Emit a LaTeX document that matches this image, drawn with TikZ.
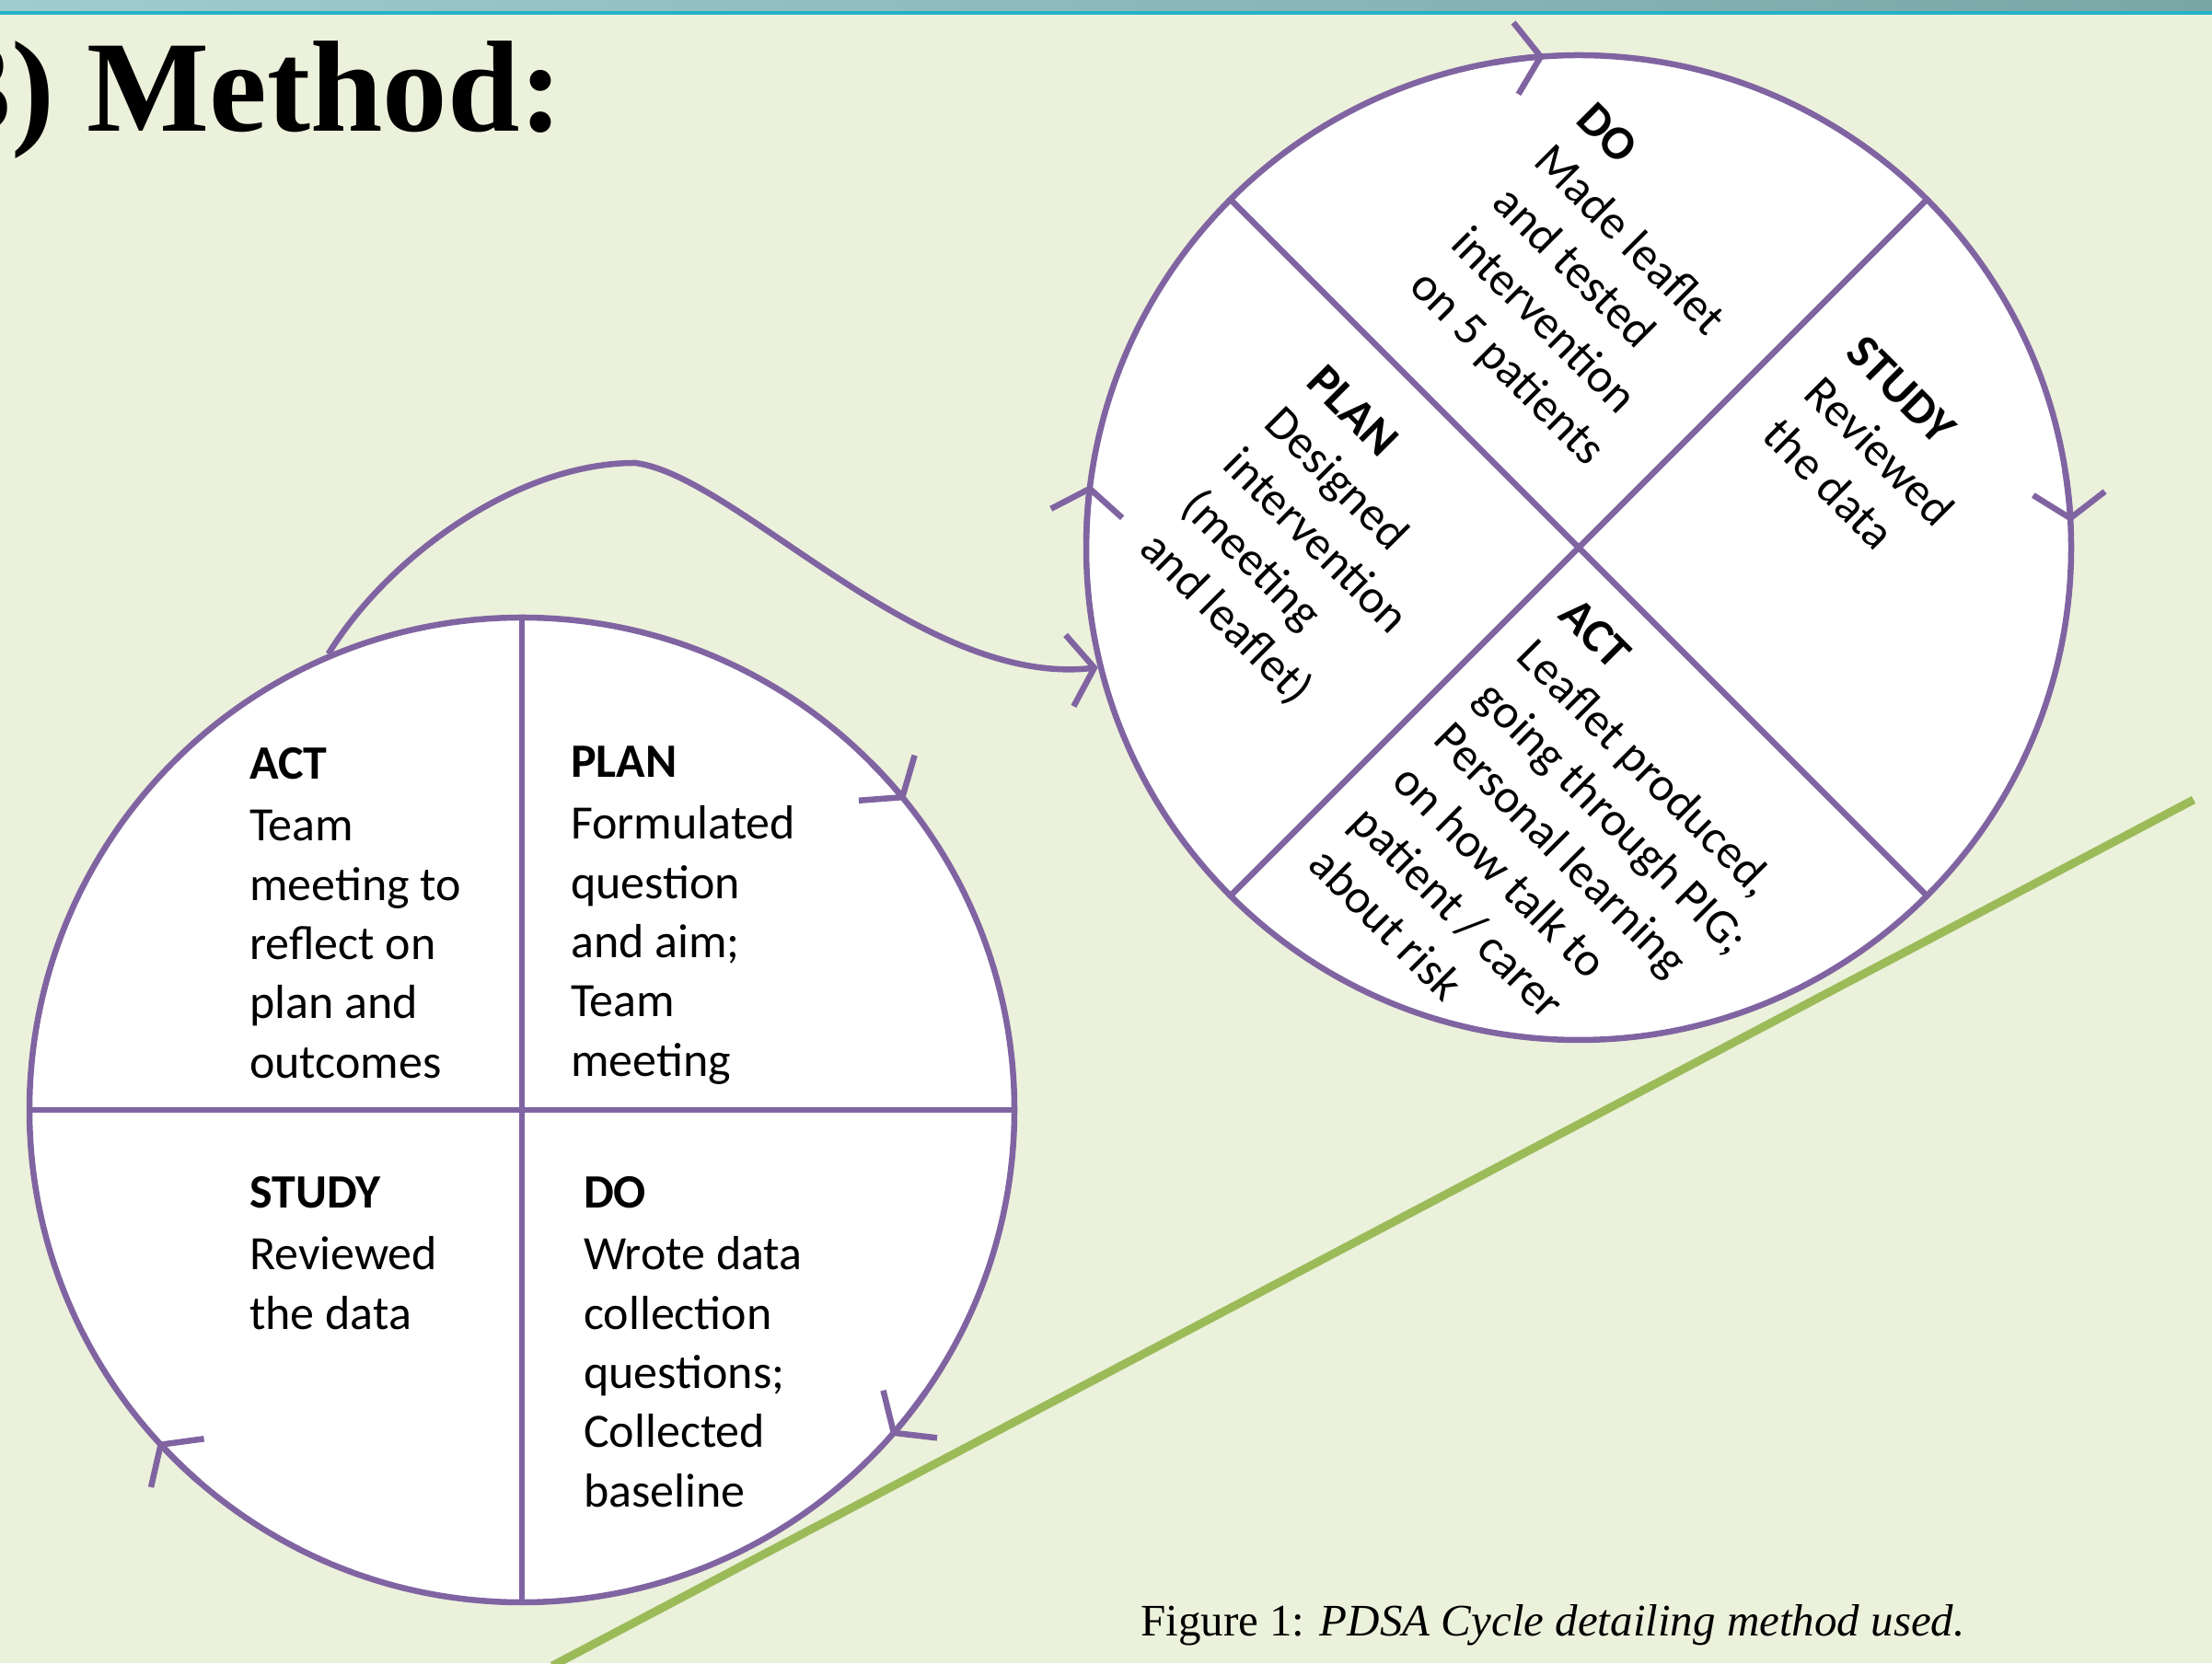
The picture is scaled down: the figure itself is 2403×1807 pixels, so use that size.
\documentclass[tikz,border=0pt]{standalone}
\usepackage{fontspec}
\setmainfont{Liberation Serif}
\newfontfamily\calibri{Carlito}
\usetikzlibrary{arrows.meta}

\definecolor{paper}{RGB}{236,241,219}
\definecolor{cyclepurple}{RGB}{128,100,162}
\definecolor{slopegreen}{RGB}{155,187,89}
\definecolor{barleft}{RGB}{160,204,208}
\definecolor{barright}{RGB}{122,166,166}
\definecolor{barline}{RGB}{35,178,200}

\tikzset{
  cyc/.style={draw=cyclepurple, line width=6.5pt},
  ring/.style={cyc, circle, fill=white, minimum size=1070pt, inner sep=0pt},
  chev/.style={-{Straight Barb[length=27pt,width=78pt]}},
  head/.style={anchor=base west, inner sep=0pt, font=\calibri\bfseries\fontsize{52}{62}\selectfont},
  body/.style={anchor=base west, inner sep=0pt, font=\calibri\fontsize{52}{62}\selectfont},
}

% one quadrant label: heading line followed by body lines, optionally rotated
\newcommand\pdsablock[6]{%
  \begin{scope}[shift={(#2,#3)}, rotate=#4, transform shape]
    \node[head] (#1-0) at (0,0) {#5};
    \foreach \txt [count=\idx] in {#6} {
      \node[body] (#1-\idx) at (0,{-\hgap-(\idx-1)*\pitch}) {\txt};
    }
  \end{scope}}

\begin{document}
\begin{tikzpicture}[x=1pt, y=1pt]
  \useasboundingbox (0,0) rectangle (2403,1807);
  \fill[paper] (0,0) rectangle (2403,1807);

  % header band
  \shade[left color=barleft, right color=barright] (0,1795) rectangle (2403,1807);
  \fill[barline] (0,1791) rectangle (2403,1795);

  % rising slope
  \coordinate (slopeA) at (600,-3);
  \coordinate (slopeB) at (2383,938);
  \draw[slopegreen, line width=9pt] (slopeA) -- (slopeB);

  % the two cycles
  \node[ring] (c1) at (567,601) {};
  \node[ring] (c2) at (1715,1212) {};

  \draw[cyc] (c1.north) -- (c1.south);
  \draw[cyc] (c1.west) -- (c1.east);
  \draw[cyc] (c2.45) -- (c2.225);
  \draw[cyc] (c2.135) -- (c2.315);

  % first cycle labels
  \def\hgap{67}\def\pitch{64.3}
  \pdsablock{actA}{271}{960}{0}{ACT}{Team, meeting to, reflect on, plan and, outcomes}
  \pdsablock{planA}{620}{962}{0}{PLAN}{Formulated, question, and aim;, Team, meeting}
  \pdsablock{studyA}{271}{494}{0}{STUDY}{Reviewed, the data}
  \pdsablock{doA}{634}{494}{0}{DO}{Wrote data, collection, questions;, Collected, baseline}

  % second cycle labels
  \def\hgap{64}\def\pitch{64}
  \pdsablock{doB}{1710}{1675}{-45}{DO}{Made leaflet, and tested, intervention, on 5 patients}
  \pdsablock{studyB}{2003}{1422}{-45}{STUDY}{Reviewed, the data}
  \pdsablock{planB}{1417}{1390}{-45}{PLAN}{Designed, intervention, {(meeting}, {and leaflet)}}
  \pdsablock{actB}{1691}{1137}{-45}{ACT}{{Leaflet produced,}, going through PIG;, Personal learning, on how talk to, patient / carer, about risk}

  % direction marks on the first cycle
  \draw[cyc, chev] (c1) ++(45:535) arc[start angle=45, end angle=39, radius=535];
  \draw[cyc, chev] (c1) ++(-35:535) arc[start angle=-35, end angle=-41.4, radius=535];
  \draw[cyc, chev] (c1) ++(229:535) arc[start angle=229, end angle=222.4, radius=535];

  % direction marks on the second cycle
  \draw[cyc, chev] (c2) ++(100:535) arc[start angle=100, end angle=94, radius=535];
  \draw[cyc, chev] (c2) ++(9:535) arc[start angle=9, end angle=3, radius=535];
  \draw[cyc, chev] (c2) ++(179:535) arc[start angle=179, end angle=172.7, radius=535];

  % link from the first cycle into the second
  \coordinate (crest) at (690,1304);
  \draw[cyc, chev] (c1.113) .. controls (420,1200) and (560,1304) .. (crest)
        .. controls (800,1290) and (1000,1060) .. (c2.194);

  % heading and caption
  \node[anchor=base east, inner sep=0pt, font=\bfseries\fontsize{141}{160}\selectfont] (title) at (612,1664) {3) Method:};
  \node[anchor=base west, inner sep=0pt, font=\fontsize{49}{58}\selectfont] (caption) at (1239,30)
    {Figure 1: \textit{PDSA Cycle detailing method used.}};
\end{tikzpicture}
\end{document}
